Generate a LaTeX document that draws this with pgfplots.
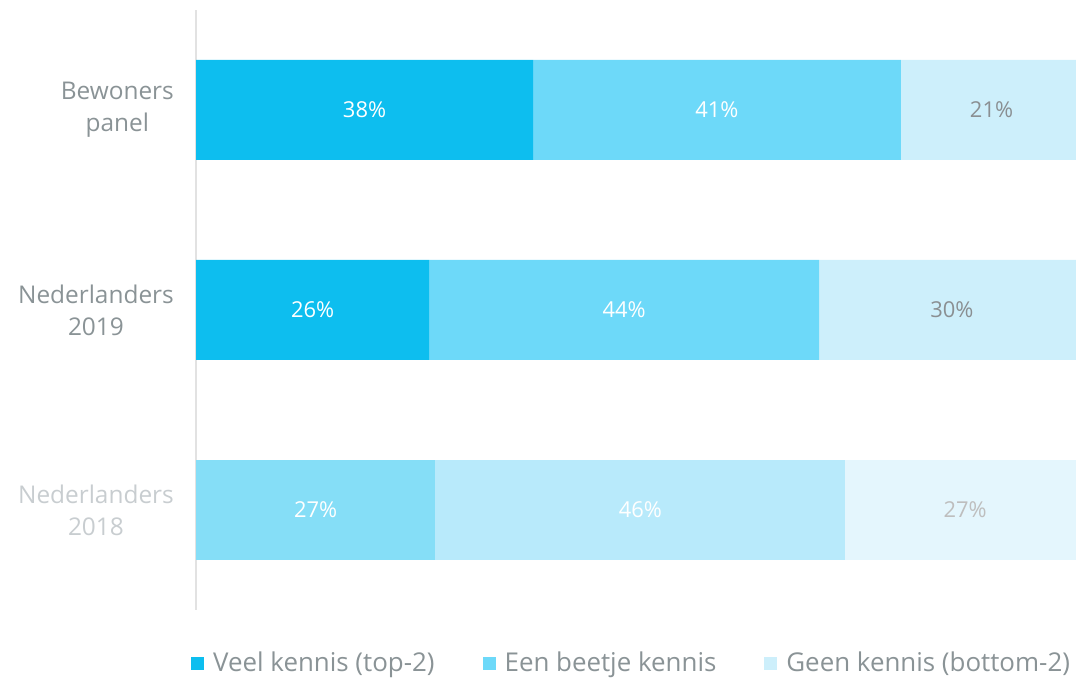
\documentclass[border=0pt]{standalone}
\usepackage{pgfplots}
\pgfplotsset{compat=1.18}
\usepackage{fontspec}
\setmainfont{Open Sans}
\definecolor{c1}{HTML}{0DBEEF}
\definecolor{c2}{HTML}{6DD9F9}
\definecolor{c3}{HTML}{CDEFFB}
\definecolor{d1}{HTML}{85DEF7}
\definecolor{d2}{HTML}{B8EAFB}
\definecolor{d3}{HTML}{E4F6FD}
\definecolor{tgray}{HTML}{8A9396}
\definecolor{tlight}{HTML}{C8CDD0}
\definecolor{lgray}{HTML}{8A8F92}
\definecolor{llgray}{HTML}{BEBEBE}
\definecolor{axgray}{HTML}{E2E2E2}
\begin{document}
\begin{tikzpicture}
\useasboundingbox (0,0) rectangle (1076bp,680bp);
\pgfplotsset{common/.style={
  at={(196bp,70bp)}, anchor=south west,
  width=880bp, height=600bp, scale only axis,
  xmin=0, xmax=100, ymin=-0.5, ymax=2.5,
}}
\begin{axis}[common,
  xbar stacked, bar width=100bp,
  axis x line=none, axis y line*=left,
  y axis line style={draw=axgray, line width=1.5bp},
  ytick={0,1,2}, xtick=\empty,
  major tick length=0pt,
  yticklabels={{\textcolor{tlight}{Nederlanders}\\\textcolor{tlight}{2018}},{Nederlanders\\2019},{Bewoners\\panel}},
  yticklabel style={font=\fontsize{24.5}{32}\selectfont, text=tgray, align=center, inner sep=0pt, xshift=-22bp},
  legend style={at={(0.495,-0.088)}, anchor=center, legend columns=3, draw=none, fill=none,
    font=\fontsize{26}{30}\selectfont, text=tgray,
    /tikz/every even column/.append style={column sep=46bp},
    /tikz/every odd column/.append style={column sep=7bp},
    nodes={inner sep=2bp}},
  legend image code/.code={\fill[#1] (0bp,-7bp) rectangle (13bp,6bp);},
]
\addplot[fill=c1, draw=none] coordinates {(0,0) (26.5,1) (38.3,2)};
\addplot[fill=c2, draw=none] coordinates {(0,0) (44.3,1) (41.8,2)};
\addplot[fill=c3, draw=none] coordinates {(0,0) (29.2,1) (19.9,2)};
\addplot[fill=d1, draw=none, forget plot] coordinates {(27.2,0) (0,1) (0,2)};
\addplot[fill=d2, draw=none, forget plot] coordinates {(46.6,0) (0,1) (0,2)};
\addplot[fill=d3, draw=none, forget plot] coordinates {(26.2,0) (0,1) (0,2)};
\legend{Veel kennis (top-2),Een beetje kennis,Geen kennis (bottom-2)}
\end{axis}
\begin{axis}[common, hide axis]
\addplot[draw=none, mark=none, nodes near coords, point meta=explicit symbolic,
  every node near coord/.append style={anchor=center, text=white, font=\fontsize{22}{26}\selectfont}]
  coordinates {(19.15,2) [38\%] (59.2,2) [41\%] (13.25,1) [26\%] (48.65,1) [44\%] (13.6,0) [27\%] (50.5,0) [46\%]};
\addplot[draw=none, mark=none, nodes near coords, point meta=explicit symbolic,
  every node near coord/.append style={anchor=center, text=lgray, font=\fontsize{22}{26}\selectfont}]
  coordinates {(90.4,2) [21\%] (85.9,1) [30\%]};
\addplot[draw=none, mark=none, nodes near coords, point meta=explicit symbolic,
  every node near coord/.append style={anchor=center, text=llgray, font=\fontsize{22}{26}\selectfont}]
  coordinates {(87.4,0) [27\%]};
\end{axis}
\end{tikzpicture}
\end{document}
